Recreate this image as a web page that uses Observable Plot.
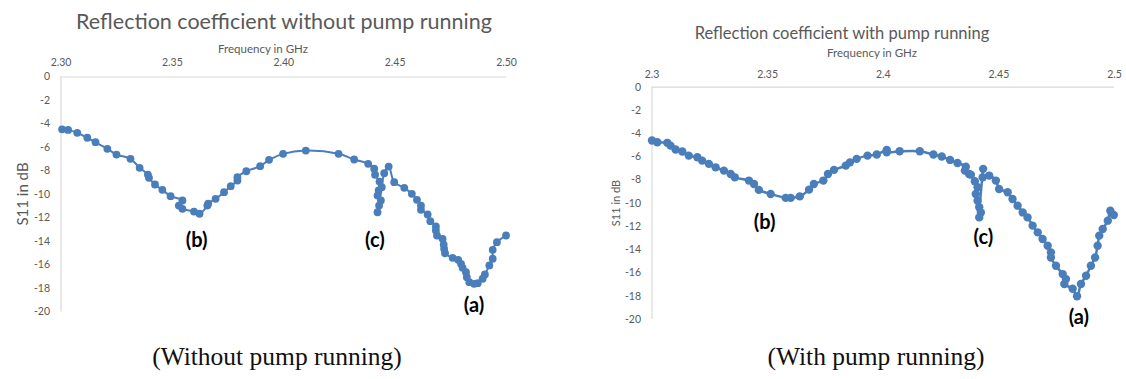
<!DOCTYPE html>
<html><head><meta charset="utf-8">
<script src="https://cdn.jsdelivr.net/npm/d3@7"></script>
<script src="https://cdn.jsdelivr.net/npm/@observablehq/plot@0.6"></script>
<style>
html,body{margin:0;padding:0;background:#fff;}
#root{position:relative;width:1126px;height:379px;overflow:hidden;font-family:Lato,sans-serif;}
.abs{position:absolute;white-space:nowrap;transform:translate(-50%,-50%);line-height:1;}
.gray{color:#595959;}
.cap{font-family:"Liberation Serif",serif;color:#111;font-size:25.5px;}
.panel{position:absolute;top:0;}
</style>
</head><body>
<div id="root">
  <div id="leftPanel" class="panel" style="left:0px"></div>
  <div id="rightPanel" class="panel" style="left:590px"></div>
  <div class="abs gray" style="left:284px;top:22px;font-size:21.5px">Reflection coefficient without pump running</div>
  <div class="abs gray" style="left:842px;top:33px;font-size:16.5px">Reflection coefficient with pump running</div>
  <div class="abs gray" style="left:263px;top:49px;font-size:11.5px">Frequency in GHz</div>
  <div class="abs gray" style="left:872px;top:53px;font-size:11.5px">Frequency in GHz</div>
  <div class="abs gray" style="left:22px;top:194px;font-size:15px;transform:translate(-50%,-50%) rotate(-90deg)">S11 in dB</div>
  <div class="abs gray" style="left:615px;top:203px;font-size:11px;transform:translate(-50%,-50%) rotate(-90deg)">S11 in dB</div>
  <div class="abs cap" style="left:277px;top:357px">(Without pump running)</div>
  <div class="abs cap" style="left:876px;top:357px">(With pump running)</div>
</div>
<script>
// ---- data ----
const xTicks = [2.30, 2.35, 2.40, 2.45, 2.50];
const yTicks = [0, -2, -4, -6, -8, -10, -12, -14, -16, -18, -20];

const leftFreq = [2.3005,2.3032,2.3073,2.3118,2.3155,2.3208,2.3249,2.3312,2.3353,2.3390,2.3395,2.3422,2.3455,2.3492,2.3545,2.3529,2.3545,2.3597,2.3622,2.3657,2.3661,2.3694,2.3732,2.3762,2.3792,2.3792,2.3832,2.3894,2.3934,2.3997,2.4099,2.4246,2.4316,2.4379,2.4406,2.4410,2.4430,2.4426,2.4421,2.4436,2.4428,2.4421,2.4440,2.4451,2.4471,2.4496,2.4541,2.4575,2.4598,2.4616,2.4616,2.4646,2.4658,2.4683,2.4683,2.4688,2.4713,2.4718,2.4720,2.4724,2.4758,2.4783,2.4796,2.4803,2.4818,2.4822,2.4833,2.4855,2.4871,2.4893,2.4903,2.4923,2.4938,2.4938,2.4957,2.4998];
const leftS11 = [-4.45,-4.50,-4.75,-5.17,-5.55,-6.11,-6.60,-6.96,-7.73,-8.30,-8.58,-9.15,-9.60,-10.14,-10.51,-10.94,-11.22,-11.45,-11.64,-10.94,-10.77,-10.37,-9.80,-9.29,-8.81,-8.53,-8.02,-7.59,-7.05,-6.54,-6.26,-6.54,-7.02,-7.39,-7.81,-8.32,-8.90,-9.66,-10.09,-10.51,-10.94,-11.51,-9.38,-8.19,-7.62,-8.95,-9.43,-9.94,-10.45,-10.94,-11.30,-11.70,-12.27,-12.72,-13.06,-13.49,-13.77,-14.26,-14.62,-15.00,-15.39,-15.56,-15.90,-16.24,-16.61,-17.04,-17.46,-17.60,-17.55,-17.17,-16.81,-16.04,-15.47,-14.71,-14.06,-13.49];

const rightFreq = [2.3000,2.3023,2.3066,2.3080,2.3102,2.3131,2.3159,2.3196,2.3217,2.3246,2.3275,2.3311,2.3340,2.3358,2.3419,2.3441,2.3462,2.3513,2.3578,2.3600,2.3639,2.3679,2.3700,2.3741,2.3761,2.3787,2.3838,2.3856,2.3885,2.3932,2.3972,2.4015,2.4015,2.4071,2.4158,2.4217,2.4253,2.4289,2.4321,2.4357,2.4353,2.4371,2.4379,2.4396,2.4408,2.4400,2.4408,2.4415,2.4422,2.4415,2.4432,2.4430,2.4458,2.4487,2.4501,2.4538,2.4559,2.4581,2.4603,2.4624,2.4646,2.4668,2.4689,2.4711,2.4725,2.4725,2.4747,2.4776,2.4790,2.4783,2.4819,2.4838,2.4855,2.4877,2.4898,2.4916,2.4927,2.4934,2.4949,2.4971,2.4982,2.4997];
const rightS11 = [-4.59,-4.74,-4.79,-5.03,-5.37,-5.54,-5.89,-6.03,-6.32,-6.60,-6.90,-7.18,-7.47,-7.76,-8.04,-8.33,-8.84,-9.19,-9.53,-9.53,-9.40,-8.82,-8.33,-8.04,-7.47,-7.12,-6.75,-6.47,-6.17,-5.89,-5.80,-5.40,-5.60,-5.52,-5.52,-5.80,-5.97,-6.26,-6.52,-6.84,-7.18,-7.47,-7.53,-8.10,-8.62,-9.19,-9.77,-10.34,-10.78,-11.21,-7.03,-7.76,-7.61,-8.04,-8.76,-9.05,-9.62,-10.20,-10.78,-11.21,-11.92,-12.50,-13.07,-13.65,-14.22,-14.66,-15.37,-16.09,-16.52,-16.95,-17.35,-18.00,-16.95,-16.23,-15.37,-14.66,-13.65,-12.78,-12.21,-11.49,-10.63,-11.00];

const markText = ["(a)", "(b)", "(c)"];
const leftMarkFreq = [2.4854, 2.3609, 2.4409];
const leftMarkS11 = [-19.45, -13.9, -13.9];
const rightMarkFreq = [2.4846, 2.3487, 2.4433];
const rightMarkS11 = [-19.86, -11.66, -12.93];

const BLUE = "#4a7ebb";

function panel(freq, s11, mf, ms, o) {
  const data = freq.map((f, i) => ({f, v: s11[i]}));
  const marks = markText.map((t, i) => ({t, f: mf[i], v: ms[i]}));
  return Plot.plot({
    width: o.width, height: o.height,
    marginLeft: o.ml, marginRight: o.mr, marginTop: o.mt, marginBottom: o.mb,
    style: {fontFamily: "Lato, sans-serif", fontSize: "10.5px", color: "#595959", background: "transparent", overflow: "visible"},
    x: {domain: [2.3, 2.5]},
    y: {domain: [-20, 0]},
    marks: [
      Plot.ruleY([0], {stroke: "#d9d9d9", strokeWidth: 1.2}),
      Plot.ruleX([2.3], {stroke: "#d9d9d9", strokeWidth: 1.2}),
      Plot.axisX({anchor: "top", ticks: xTicks, tickFormat: o.xfmt, tickSize: 0, tickPadding: o.xpad, label: null, fill: "#595959"}),
      Plot.axisY({anchor: "left", ticks: yTicks, tickFormat: d => String(d), tickSize: 0, tickPadding: o.ypad, label: null, fill: "#595959"}),
      Plot.line(data, {x: "f", y: "v", stroke: BLUE, strokeWidth: o.sw, curve: "catmull-rom"}),
      Plot.dot(data, {x: "f", y: "v", r: o.r, fill: BLUE}),
      Plot.text(marks, {x: "f", y: "v", text: "t", fontWeight: "bold", fontSize: o.fs, fill: "#000"})
    ]
  });
}

document.getElementById("leftPanel").append(
  panel(leftFreq, leftS11, leftMarkFreq, leftMarkS11,
    {width: 560, height: 330, ml: 60.5, mr: 54, mt: 76.5, mb: 18.5, xpad: 11, ypad: 11, r: 3.9, sw: 2, fs: 20,
     xfmt: d => d.toFixed(2)}));
document.getElementById("rightPanel").append(
  panel(rightFreq, rightS11, rightMarkFreq, rightMarkS11,
    {width: 536, height: 330, ml: 61.5, mr: 12, mt: 86.7, mb: 11, xpad: 9, ypad: 11, r: 4.2, sw: 2.5, fs: 20,
     xfmt: d => String(+d.toFixed(2))}));
</script>
</body></html>
